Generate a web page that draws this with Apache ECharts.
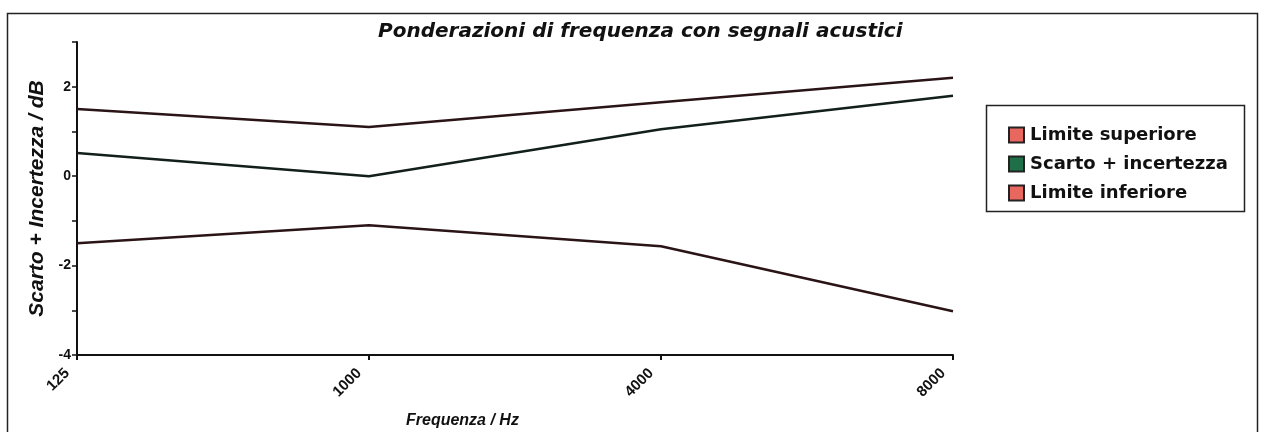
<!DOCTYPE html>
<html>
<head>
<meta charset="utf-8">
<script src="https://cdn.jsdelivr.net/npm/echarts@6/dist/echarts.min.js"></script>
<style>
  html, body { margin: 0; padding: 0; background: #fff; }
  #chart { width: 1265px; height: 432px; }
</style>
</head>
<body>
<div id="chart"></div>
<script>
var frequencies = ['125', '1000', '4000', '8000'];
var limiteSuperiore = [1.5, 1.1, 1.65, 2.2];
var scartoIncertezza = [0.52, 0.0, 1.05, 1.8];
var limiteInferiore = [-1.5, -1.1, -1.57, -3.02];

var font = '"Liberation Sans", Arial, sans-serif';
var wide = '"DejaVu Sans", sans-serif';

var chart = echarts.init(document.getElementById('chart'));
chart.setOption({
    animation: false,
    backgroundColor: '#fff',
    title: {
        text: 'Ponderazioni di frequenza con segnali acustici',
        left: 373,
        top: 17,
        textStyle: { fontFamily: wide, fontSize: 20, fontStyle: 'italic', fontWeight: 'bold', color: '#111' }
    },
    graphic: [
        // outer frame
        { type: 'rect', shape: { x: 7.5, y: 13.5, width: 1250, height: 430 }, style: { fill: 'none', stroke: '#222', lineWidth: 1.5 } },
        // legend box
        { type: 'rect', shape: { x: 986.5, y: 105.5, width: 258, height: 106 }, style: { fill: 'none', stroke: '#222', lineWidth: 1.5 } },
        { type: 'text', left: 406, top: 413, style: { text: 'Frequenza / Hz', font: 'italic bold 16px ' + font, fill: '#111' } }
    ],
    legend: {
        orient: 'vertical',
        left: 1003,
        top: 121,
        itemGap: 11,
        itemWidth: 15,
        itemHeight: 15,
        icon: 'rect',
        textStyle: { fontFamily: wide, fontSize: 18, fontWeight: 'bold', color: '#111', padding: [0, 0, 0, 1] },
        data: ['Limite superiore', 'Scarto + incertezza', 'Limite inferiore']
    },
    grid: { left: 77, right: 312, top: 42, bottom: 77 },
    xAxis: {
        type: 'category',
        data: frequencies,
        boundaryGap: false,
        axisLine: { onZero: false, lineStyle: { color: '#111', width: 2 } },
        axisTick: { show: true, length: 5, lineStyle: { color: '#111', width: 2 } },
        axisLabel: { rotate: 45, color: '#111', fontFamily: font, fontWeight: 'bold', fontSize: 15, margin: 6, padding: [0, 14, 0, 0] },
        splitLine: { show: false }
    },
    yAxis: {
        type: 'value',
        min: -4,
        max: 3,
        interval: 1,
        name: 'Scarto + Incertezza / dB',
        nameLocation: 'middle',
        nameGap: 24,
        nameTextStyle: { fontFamily: font, fontSize: 21, fontStyle: 'italic', fontWeight: 'bold', color: '#111' },
        axisLine: { show: true, lineStyle: { color: '#111', width: 2 } },
        axisTick: { show: true, length: 5, lineStyle: { color: '#111', width: 1.5 } },
        axisLabel: {
            color: '#111', fontFamily: font, fontWeight: 'bold', fontSize: 14, margin: 6,
            formatter: function (v) { return (v % 2 === 0) ? String(v) : ''; }
        },
        splitLine: { show: false }
    },
    series: [
        {
            name: 'Limite superiore', type: 'line', data: limiteSuperiore,
            showSymbol: false, symbol: 'none',
            itemStyle: { color: '#e8675f', borderColor: '#222', borderWidth: 1 },
            lineStyle: { color: '#2a1416', width: 2.5 }
        },
        {
            name: 'Scarto + incertezza', type: 'line', data: scartoIncertezza,
            showSymbol: false, symbol: 'none',
            itemStyle: { color: '#1f7048', borderColor: '#222', borderWidth: 1 },
            lineStyle: { color: '#121f1a', width: 2.5 }
        },
        {
            name: 'Limite inferiore', type: 'line', data: limiteInferiore,
            showSymbol: false, symbol: 'none',
            itemStyle: { color: '#e8675f', borderColor: '#222', borderWidth: 1 },
            lineStyle: { color: '#2a1416', width: 2.5 }
        }
    ]
});
</script>
</body>
</html>
